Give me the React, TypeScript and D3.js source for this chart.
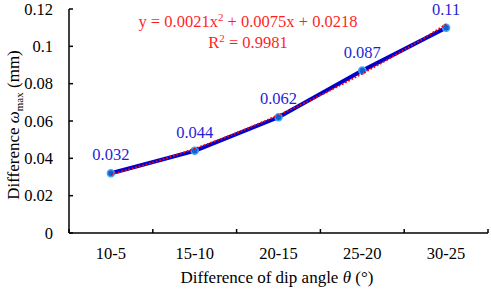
import React from "react";
import * as d3 from "d3";

const categories = ["10-5", "15-10", "20-15", "25-20", "30-25"];
const values = [0.032, 0.044, 0.062, 0.087, 0.11];
const valueLabels = ["0.032", "0.044", "0.062", "0.087", "0.11"];
const yTicks = [0, 0.02, 0.04, 0.06, 0.08, 0.1, 0.12];
const trendCoefs = [0.0021, 0.0075, 0.0218]; // a, b, c
const trendSamples = [1, 1.25, 1.5, 1.75, 2, 2.25, 2.5, 2.75, 3, 3.25, 3.5, 3.75, 4, 4.25, 4.5, 4.75, 5];

const W = 491, H = 289;
const margin = { left: 69, right: 3, top: 9, bottom: 56 };
const font = "'Liberation Serif', 'Times New Roman', serif";

export default function App() {
  const x = d3.scaleBand().domain(categories).range([margin.left, W - margin.right]).padding(0);
  const y = d3.scaleLinear().domain([0, 0.12]).range([H - margin.bottom, margin.top]);
  const xc = (i: number) => (x(categories[i]) as number) + x.bandwidth() / 2;
  const xIdx = d3.scaleLinear().domain([1, 5]).range([xc(0), xc(4)]);
  const line = d3.line<number>().x((_, i) => xc(i)).y((d) => y(d));
  const trend = d3.line<number>().x((t) => xIdx(t)).y((t) => y(trendCoefs[0] * t * t + trendCoefs[1] * t + trendCoefs[2])).curve(d3.curveMonotoneX);
  const y0 = y(0);
  const boundaries = [...categories.map((c) => x(c) as number), W - margin.right];

  return (
    <svg width={W} height={H} style={{ position: "absolute", left: 0, top: 0, background: "#fff" }} fontFamily={font}>
      {/* axes */}
      <line x1={margin.left} x2={margin.left} y1={margin.top} y2={y0} stroke="#000" strokeWidth={1.5} />
      <line x1={margin.left} x2={W - margin.right} y1={y0} y2={y0} stroke="#000" strokeWidth={1.5} />
      {yTicks.map((t) => (
        <g key={t}>
          <line x1={margin.left} x2={margin.left + 4} y1={y(t)} y2={y(t)} stroke="#000" strokeWidth={1.5} />
          <text x={margin.left - 16} y={y(t)} dy="0.35em" textAnchor="end" fontSize={16.5}>{String(t)}</text>
        </g>
      ))}
      {boundaries.map((b, i) => (
        <line key={i} x1={b} x2={b} y1={y0} y2={y0 - 4} stroke="#000" strokeWidth={1.5} />
      ))}
      {categories.map((c, i) => (
        <text key={c} x={xc(i)} y={259} textAnchor="middle" fontSize={16.5}>{c}</text>
      ))}
      <text x={277} y={283} textAnchor="middle" fontSize={17}>
        Difference of dip angle <tspan fontStyle="italic">θ</tspan> (°)
      </text>
      <text transform={`translate(19,${(margin.top + y0) / 2 + 4}) rotate(-90)`} textAnchor="middle" fontSize={17}>
        Difference <tspan fontStyle="italic">ω</tspan><tspan fontSize={11} dy={4}>max</tspan><tspan dy={-4}> (mm)</tspan>
      </text>
      {/* series */}
      <path d={line(values) || ""} fill="none" stroke="#0000cc" strokeWidth={4} strokeLinejoin="round" />
      {values.map((v, i) => (
        <circle key={i} cx={xc(i)} cy={y(v)} r={3.5} fill="#1060d0" stroke="#3fa0ff" strokeWidth={1.5} />
      ))}
      <path d={trend(trendSamples) || ""} fill="none" stroke="#ff0000" strokeWidth={1.8} strokeDasharray="1.8,1.8" />
      {values.map((v, i) => (
        <text key={i} x={xc(i)} y={y(v) - 13} textAnchor="middle" fontSize={16.5} fill="#1f1fd6">{valueLabels[i]}</text>
      ))}
      {/* trendline equation */}
      <text x={248} y={27} textAnchor="middle" fontSize={16.5} fill="#ff1f1f">
        y = 0.0021x<tspan fontSize={11} dy={-6}>2</tspan><tspan dy={6}> + 0.0075x + 0.0218</tspan>
      </text>
      <text x={248} y={48} textAnchor="middle" fontSize={16.5} fill="#ff1f1f">
        R<tspan fontSize={11} dy={-6}>2</tspan><tspan dy={6}> = 0.9981</tspan>
      </text>
    </svg>
  );
}
